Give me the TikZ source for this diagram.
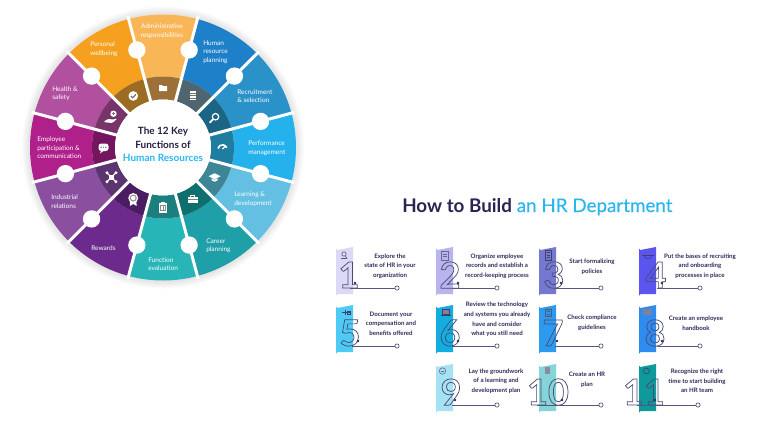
\documentclass[tikz,border=0pt]{standalone}
\usepackage{fontspec}
\setmainfont{Lato}
\definecolor{ink}{HTML}{2D2A5A}
\definecolor{sky}{HTML}{2BB6F0}
\definecolor{titleink}{HTML}{2A2550}
\tikzset{
  seglabel/.style={white,font=\fontsize{4.9pt}{6.4pt}\selectfont,align=left,anchor=west,inner sep=0pt},
  seglabelc/.style={seglabel,align=center,anchor=center},
  cardtext/.style={ink,font=\fontsize{4.6pt}{7.2pt}\selectfont\bfseries,align=center,anchor=center,inner sep=0pt},
  hubtext/.style={inner sep=0pt,font=\fontsize{7.5pt}{9pt}\selectfont\bfseries},
  gapdot/.style={circle,fill=white,draw=none,minimum size=13pt,inner sep=0pt},
  enddot/.style={circle,draw=ink!80,fill=white,line width=.5pt,minimum size=3.2pt,inner sep=0pt},
  startdot/.style={circle,fill=ink,draw=none,minimum size=2pt,inner sep=0pt},
  lead/.style={draw=ink!80,line width=.55pt},
  wline/.style={white,line width=.6pt,fill=none},
  cicon/.style={line width=.45pt,fill=none},
  numeral/.style={ink!85,inner sep=0pt,anchor=center}
}
\newcommand{\outl}[1]{\fontsize{27pt}{27pt}\selectfont\bfseries\special{pdf:code q 1 Tr 0.55 w}#1\special{pdf:code Q}}
\newcommand{\card}[9]{%
  \fill[#2] (#3,#4+1.5) arc[start angle=180,end angle=90,radius=1.5] -- (#3+17,#4) -- (#3+17,#4+47) -- (#3+1.5,#4+47) arc[start angle=-90,end angle=-180,radius=1.5] -- cycle;
  \node[numeral] (num#1) at (#6,#4+28) {\outl{#5}};
  \coordinate (st#1) at (#8,#4+41);
  \node[enddot] (en#1) at (#9,#4+41) {};
  \node[startdot] (do#1) at (#7,#4+36) {};
  \draw[lead] (st#1) -- (en#1);
}
\begin{document}
\begin{tikzpicture}[x=0.75pt,y=-0.75pt]
\useasboundingbox (0,0) rectangle (768,433);
\fill[white] (0,0) rectangle (768,433);
\begin{scope}[shift={(163,147.5)},x=0.75pt,y=0.75pt]
  \foreach \r in {135,136.5,138,139.5,141} \fill[black,opacity=.018] (0,0) circle[radius=\r];
  \foreach \a/\o/\i in {
    90/F9B657/9C7036, 60/1E80C8/4F6671, 30/2B92C9/1B6484, 0/25B2EC/1F7EA0,
    -30/63C0E3/3E8696, -60/1F9FA8/0F6E6E, -90/27B5B8/1B7F7E, -120/6B2A8C/4A1D62,
    -150/8A4F9E/5C3570, 180/B0208A/751560, 150/B0509E/783468, 120/F5A01E/9B6C22}{
    \definecolor{oc}{HTML}{\o}\definecolor{ic}{HTML}{\i}
    \fill[oc] (\a-15:71) arc[start angle=\a-15,end angle=\a+15,radius=71] -- (\a+15:133) arc[start angle=\a+15,end angle=\a-15,radius=133] -- cycle;
    \fill[ic] (\a-15:48) arc[start angle=\a-15,end angle=\a+15,radius=48] -- (\a+15:71) arc[start angle=\a+15,end angle=\a-15,radius=71] -- cycle;
  }
  \foreach \a in {75,45,15,-15,-45,-75,-105,-135,-165,165,135,105}{
    \draw[white,line width=2.25pt] (\a:46) -- (\a:136);
    \node[gapdot] (gap\a) at (\a:101) {};
  }
  \node[circle,fill=white,minimum size=72pt,inner sep=0pt] (hub) at (0,0) {};
  % icons
  \begin{scope}[shift={(90:59.5)}] % folder
    \fill[white] (-4,-3) -- (-4,3) -- (-1,3) -- (0,2) -- (4,2) -- (4,-3) -- cycle;
  \end{scope}
  \begin{scope}[shift={(60:59.5)}] % ledger
    \fill[white] (-3,-4.5) rectangle (3,4.5);
    \foreach \yy in {-2,0.5,3}\draw[black!55,line width=.3pt] (-3,\yy) -- (3,\yy);
  \end{scope}
  \begin{scope}[shift={(30:59.5)}] % magnifier
    \draw[wline,line width=.9pt] (1,1) circle[radius=3.2];
    \draw[wline,line width=1.3pt] (-1.3,-1.3) -- (-5,-5);
  \end{scope}
  \begin{scope}[shift={(0:59.5)}] % gauge
    \draw[wline,line width=1.2pt] (-4.5,-1) arc[start angle=170,end angle=20,radius=4.5];
    \draw[wline,line width=1pt] (0,-1.5) -- (3,1.5);
  \end{scope}
  \begin{scope}[shift={(-30:59.5)}] % cap
    \fill[white] (-6,1) -- (0,4) -- (6,1) -- (0,-2) -- cycle;
    \fill[white] (-3,-1) -- (0,-2.6) -- (3,-1) -- (3,-3) -- (0,-4.5) -- (-3,-3) -- cycle;
  \end{scope}
  \begin{scope}[shift={(-60:59.5)}] % briefcase
    \fill[white] (-5,-3.5) rectangle (5,2.5);
    \draw[wline] (-2,2.5) -- (-2,4) -- (2,4) -- (2,2.5);
    \draw[black!50,line width=.3pt] (-5,-.5) -- (5,-.5);
  \end{scope}
  \begin{scope}[shift={(-90:59.5)}] % clipboard
    \fill[white] (-4,-5.5) rectangle (4,4);
    \fill[white] (-1.8,4) rectangle (1.8,5.5);
    \draw[black!45,line width=.3pt] (-2.5,-3.5) rectangle (2.5,1.5);
    \draw[black!45,line width=.3pt] (0,-3.5) -- (0,1.5);
  \end{scope}
  \begin{scope}[shift={(-120:59.5)}] % medal
    \fill[white] (-3,-2) -- (-3.5,-7) -- (0,-5) -- (3.5,-7) -- (3,-2) -- cycle;
    \fill[white] (0,1) circle[radius=5];
    \fill[black!40] (0,1) circle[radius=3.6];
    \fill[white] (0,1) circle[radius=2.2];
  \end{scope}
  \begin{scope}[shift={(-150:59.5)}] % network
    \draw[wline,line width=.8pt] (-4.5,4.5) -- (4.5,-4.5) (-4.5,-4.5) -- (4.5,4.5);
    \fill[white] (-2.6,-2.6) rectangle (2.6,2.6);
    \foreach \p in {(-4.5,4.5),(4.5,-4.5),(-4.5,-4.5),(4.5,4.5)} \fill[white] \p circle[radius=1.6];
  \end{scope}
  \begin{scope}[shift={(180:59.5)}] % chat
    \fill[white,rounded corners=2pt] (-5,-3.5) rectangle (5,4);
    \fill[white] (-2.5,-3) -- (-3.5,-6) -- (0.5,-3) -- cycle;
    \foreach \xx in {-2.4,0,2.4} \fill[black!60] (\xx,.3) circle[radius=.7];
  \end{scope}
  \begin{scope}[shift={(150:59.5)}] % hand and plus
    \fill[white,rounded corners=1pt] (-7,-3) -- (-2.5,-1) -- (1,-2) -- (6,-.5) -- (1.5,-5) -- (-3,-5) -- (-7,-4.5) -- cycle;
    \fill[white] (2,4) circle[radius=3.2];
    \draw[black!55,line width=.6pt] (.5,4) -- (3.5,4) (2,2.5) -- (2,5.5);
  \end{scope}
  \begin{scope}[shift={(120:59.5)}] % check
    \fill[white] (0,0) circle[radius=4.8];
    \draw[black!60,line width=.8pt] (-2.4,0) -- (-.6,-1.8) -- (2.6,1.6);
  \end{scope}
\end{scope}
% wheel title
\node[hubtext,titleink!85!black] (wt1) at (163,132) {The 12 Key};
\node[hubtext,titleink!85!black] (wt2) at (163,145) {Functions of};
\node[hubtext,sky] (wt3) at (163,158) {Human Resources};
% wheel labels
\node[seglabelc] (l1) at (162,31) {Administrative\\responsibilities};
\node[seglabel] (l2) at (203,52) {Human\\resource\\planning};
\node[seglabel] (l3) at (237,96) {Recruitment\\\& selection};
\node[seglabel] (l4) at (248,148) {Performance\\management};
\node[seglabel] (l5) at (234,199) {Learning \&\\development};
\node[seglabel] (l6) at (206,245.5) {Career\\planning};
\node[seglabel] (l7) at (148,264) {Function\\evaluation};
\node[seglabel] (l8) at (91,248) {Rewards};
\node[seglabel] (l9) at (51,201.5) {Industrial\\relations};
\node[seglabel] (l10) at (37,148) {Employee\\participation \&\\communication};
\node[seglabel] (l11) at (52,93.5) {Health \&\\safety};
\node[seglabel] (l12) at (90,49) {Personal\\wellbeing};
% title
\node[inner sep=0pt,anchor=base west,font=\fontsize{14.1pt}{16pt}\selectfont] (title) at (402,212) {\textcolor{titleink}{\bfseries How to Build} \textcolor{sky}{\addfontfeature{FakeBold=0.25}an HR Department}};
% cards
\definecolor{c1}{HTML}{DCD9F7}\definecolor{c2}{HTML}{B9B4EE}\definecolor{c3}{HTML}{7478D0}\definecolor{c4}{HTML}{5B55F0}
\definecolor{c5}{HTML}{4CCBF5}\definecolor{c6}{HTML}{13AEE0}\definecolor{c7}{HTML}{2C9AEF}\definecolor{c8}{HTML}{2E8CF0}
\definecolor{c9}{HTML}{A5E2F3}\definecolor{c10}{HTML}{85D5D8}\definecolor{c11}{HTML}{0E9A9A}
\card{1}{c1}{336}{247}{1}{349}{355}{350}{397}
\card{2}{c2}{436}{247}{2}{450}{458}{452}{497}
\card{3}{c3}{539}{247}{3}{554}{561}{555}{601}
\card{4}{c4}{639}{247}{4}{656}{662}{657}{700}
\card{5}{c5}{336}{305}{5}{350}{358}{352}{397}
\card{6}{c6}{436}{305}{6}{450}{458}{452}{497}
\card{7}{c7}{539}{305}{7}{553}{557}{555}{601}
\card{8}{c8}{639}{305}{8}{655}{662}{657}{700}
\card{9}{c9}{436}{364}{9}{451}{455}{452}{497}
\card{10}{c10}{539}{364}{10}{548}{562}{537}{601}
\card{11}{c11}{639}{364}{11}{644}{655}{637}{698}
% card icons
\draw[cicon,ink!80] (344,254) circle[radius=2.2] (345.5,256) -- (347,258.5) (341,258.5) -- (347,258.5);
\draw[cicon,ink!70] (441,251) rectangle (448,260) (442.5,254) -- (446.5,254) (442.5,256.5) -- (446.5,256.5);
\draw[cicon,ink!90] (545,250) rectangle (551,260) (546.5,252.5) -- (549.5,252.5) (546.5,255) -- (549.5,255) (546.5,257.5) -- (549.5,257.5);
\draw[cicon,ink!90] (644,255) arc[start angle=180,end angle=0,radius=4] (642,255.5) -- (654,255.5);
\draw[cicon,ink!90] (342,312.5) -- (350,312.5) (345,310) -- (345,315) (347,311) rectangle (350,314);
\draw[cicon,ink!90,fill=ink!60] (442,309.5) rectangle (449,314) (440.5,315.5) -- (450.5,315.5);
\draw[cicon,ink!80] (545,309) rectangle (551,316.5) (546.5,311.5) -- (549.5,311.5) (546.5,314) -- (549.5,314);
\fill[ink!60] (643,309) rectangle (652,315);
\draw[cicon,ink!70] (442.5,371) circle[radius=3.2] (441,371.5) -- (444,371.5);
\fill[ink!55] (544.5,367) rectangle (550,374);
\draw[cicon,ink!90] (646.5,371) circle[radius=3];
% card texts
\node[cardtext] (t1) at (390,266) {Explore the\\state of HR in your\\organization};
\node[cardtext] (t2) at (497,266) {Organize employee\\records and establish a\\record-keeping process};
\node[cardtext] (t3) at (592,266.5) {Start formalizing\\policies};
\node[cardtext] (t4) at (700,266) {Put the bases of recruiting\\and onboarding\\processes in place};
\node[cardtext] (t5) at (391,323.5) {Document your\\compensation and\\benefits offered};
\node[cardtext] (t6) at (497,319.5) {Review the technology\\and systems you already\\have and consider\\what you still need};
\node[cardtext] (t7) at (592,323) {Check compliance\\guidelines};
\node[cardtext] (t8) at (696,323) {Create an employee\\handbook};
\node[cardtext] (t9) at (496,381) {Lay the groundwork\\of a learning and\\development plan};
\node[cardtext] (t10) at (587,380) {Create an HR\\plan};
\node[cardtext] (t11) at (697,381) {Recognize the right\\time to start building\\an HR team};
\end{tikzpicture}
\end{document}
